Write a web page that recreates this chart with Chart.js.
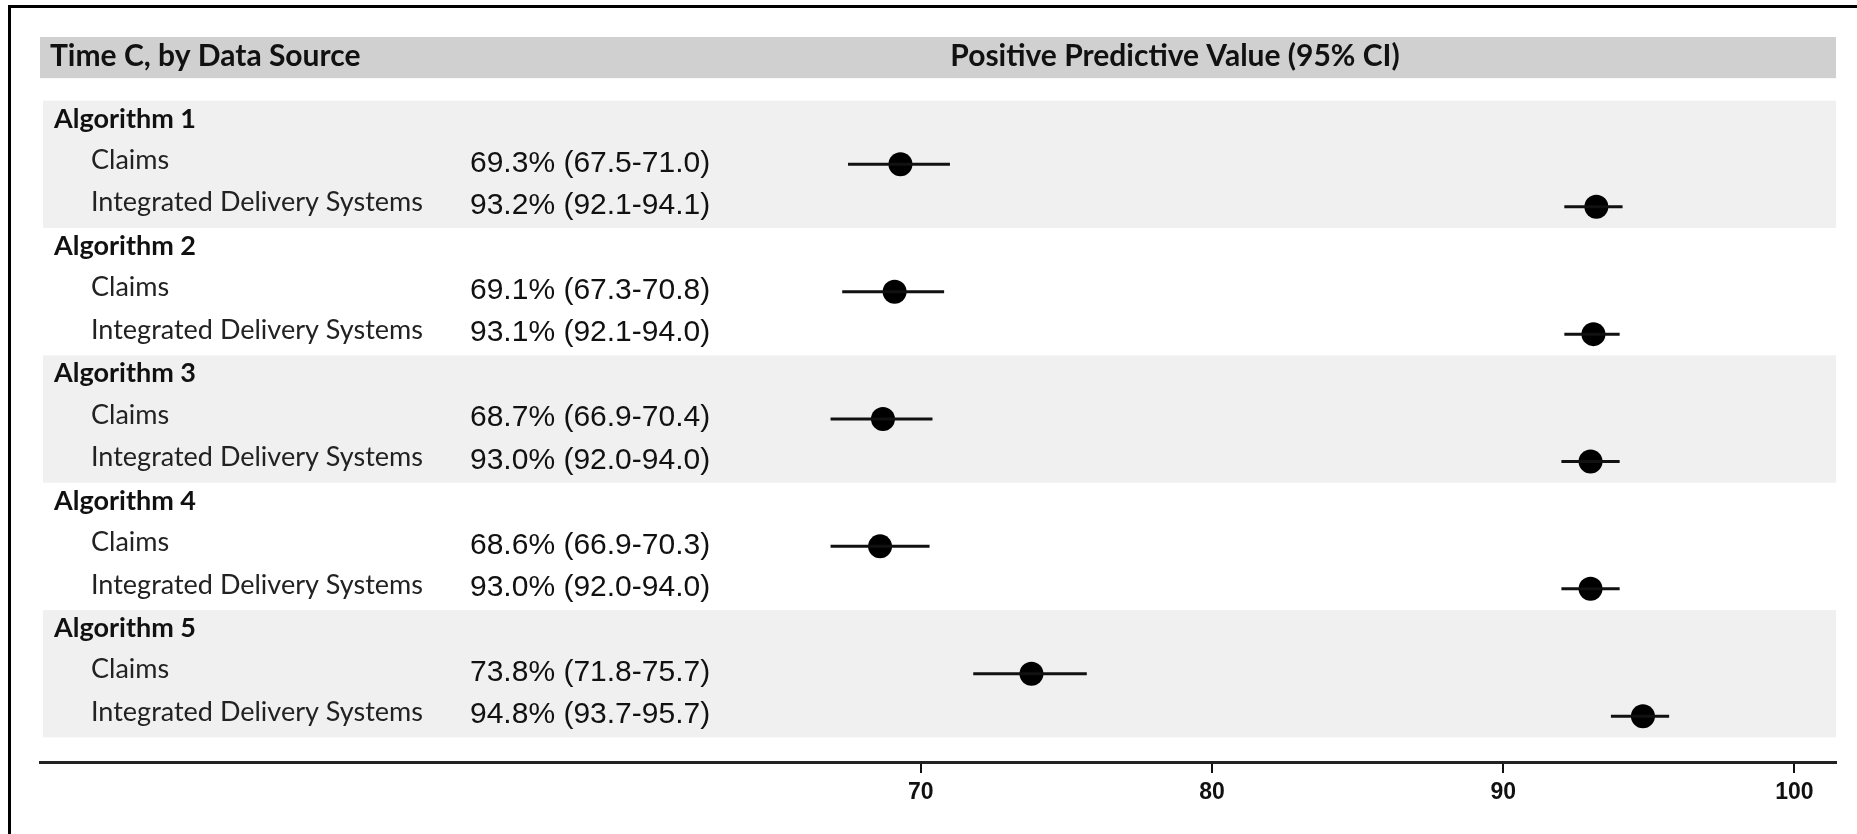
<!DOCTYPE html>
<html>
<head>
<meta charset="utf-8">
<title>Positive Predictive Value, Time C</title>
<script src="https://cdn.jsdelivr.net/npm/chart.js@4/dist/chart.umd.min.js"></script>
<style>
  html, body { margin: 0; padding: 0; background: #fff; overflow: hidden; }
  canvas { display: block; }
</style>
</head>
<body>
<canvas id="ppvChart" width="1857" height="834"></canvas>
<script>
// Values
const titleLeft = 'Time C, by Data Source';
const titleRight = 'Positive Predictive Value (95% CI)';
const algorithms = ['Algorithm 1', 'Algorithm 2', 'Algorithm 3', 'Algorithm 4', 'Algorithm 5'];
const sources = ['Claims', 'Integrated Delivery Systems'];

const claimsPPV  = [69.3, 69.1, 68.7, 68.6, 73.8];
const claimsLow  = [67.5, 67.3, 66.9, 66.9, 71.8];
const claimsHigh = [71.0, 70.8, 70.4, 70.3, 75.7];

const idsPPV  = [93.2, 93.1, 93.0, 93.0, 94.8];
const idsLow  = [92.1, 92.1, 92.0, 92.0, 93.7];
const idsHigh = [94.1, 94.0, 94.0, 94.0, 95.7];

const xTicks = [70, 80, 90, 100];

// Build rows: each algorithm takes 3 rows (header, claims, IDS)
const rows = [];
algorithms.forEach((name, g) => {
    rows.push({ pos: g * 3 + 1, est: claimsPPV[g], lo: claimsLow[g], hi: claimsHigh[g], label: sources[0] });
    rows.push({ pos: g * 3 + 2, est: idsPPV[g], lo: idsLow[g], hi: idsHigh[g], label: sources[1] });
});

const fmt = r => `${r.est.toFixed(1)}% (${r.lo.toFixed(1)}-${r.hi.toFixed(1)})`;

// CI segments, separated by null gaps
const ciData = [];
rows.forEach(r => {
    ciData.push({ x: r.lo, y: r.pos }, { x: r.hi, y: r.pos }, { x: r.hi, y: null });
});
const pointData = rows.map(r => ({ x: r.est, y: r.pos }));

const tablePlugin = {
    id: 'forestTable',
    beforeDatasetsDraw(chart) {
        const { ctx, chartArea: a, scales: { y } } = chart;
        ctx.save();

        // header band
        const hTop = y.getPixelForValue(-2), hBot = y.getPixelForValue(-1.03);
        ctx.fillStyle = '#d0d0d0';
        ctx.fillRect(a.left, hTop, a.right - a.left, hBot - hTop);

        // alternating group bands
        algorithms.forEach((name, g) => {
            if (g % 2) return;
            const top = y.getPixelForValue(g * 3 - 0.5), bot = y.getPixelForValue(g * 3 + 2.5);
            ctx.fillStyle = '#f0f0f0';
            ctx.fillRect(a.left + 3, top, a.right - a.left - 3, bot - top);
        });

        ctx.textBaseline = 'middle';
        ctx.fillStyle = '#111';
        ctx.font = 'bold 30px Lato';
        ctx.textAlign = 'left';
        ctx.fillText(titleLeft, 50, (hTop + hBot) / 2 - 1);
        ctx.textAlign = 'center';
        ctx.fillText(titleRight, 1175, (hTop + hBot) / 2 - 1);

        ctx.textAlign = 'left';
        ctx.font = 'bold 27px Lato';
        algorithms.forEach((name, g) => {
            ctx.fillText(name, 54, y.getPixelForValue(g * 3) - 3);
        });

        rows.forEach(r => {
            const py = y.getPixelForValue(r.pos);
            ctx.fillStyle = '#222';
            ctx.font = '27px Lato';
            ctx.fillText(r.label, 91, py - 4);
            ctx.fillStyle = '#111';
            ctx.font = '30px "Liberation Sans"';
            ctx.fillText(fmt(r), 470, py - 1);
        });
        ctx.restore();
    },
    afterDraw(chart) {
        const ctx = chart.ctx;
        ctx.save();
        ctx.fillStyle = '#000';
        ctx.fillRect(8, 5, 3, chart.height);
        ctx.fillRect(8, 5, chart.width, 3);
        ctx.restore();
    }
};

new Chart(document.getElementById('ppvChart'), {
    type: 'line',
    data: {
        datasets: [{
            label: '95% CI',
            data: ciData,
            borderColor: '#111',
            borderWidth: 3,
            pointRadius: 0,
            spanGaps: false,
            fill: false
        }, {
            type: 'scatter',
            label: 'PPV',
            data: pointData,
            backgroundColor: '#000',
            borderWidth: 0,
            pointRadius: 12,
            pointHoverRadius: 12
        }]
    },
    options: {
        responsive: false,
        animation: false,
        layout: { padding: { left: 40, right: 21, top: 37, bottom: 0 } },
        plugins: { legend: { display: false }, tooltip: { enabled: false } },
        scales: {
            x: {
                type: 'linear',
                min: 39.75,
                max: 101.43,
                afterBuildTicks: scale => { scale.ticks = xTicks.map(v => ({ value: v })); },
                afterFit: scale => { scale.height = 72; },
                border: { display: true, color: '#222', width: 3 },
                grid: { drawOnChartArea: false, drawTicks: true, tickLength: 11, color: '#111', lineWidth: 2 },
                ticks: {
                    autoSkip: false,
                    maxRotation: 0,
                    padding: 6,
                    color: '#111',
                    font: { family: '"Liberation Sans"', size: 23, weight: 'bold' }
                }
            },
            y: {
                type: 'linear',
                display: false,
                reverse: true,
                min: -2,
                max: 15.08
            }
        }
    },
    plugins: [tablePlugin]
});
</script>
</body>
</html>
